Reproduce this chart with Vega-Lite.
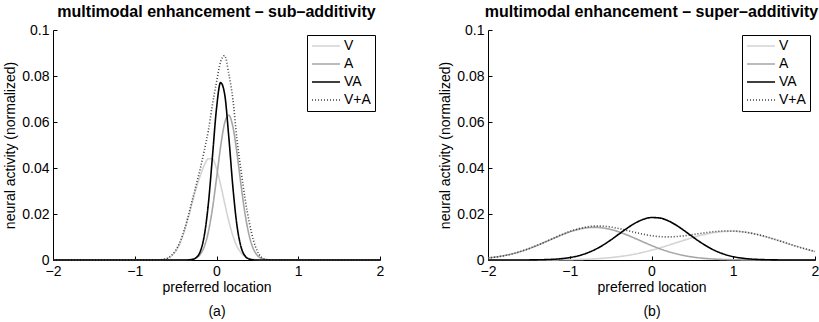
{
 "$schema": "https://vega.github.io/schema/vega-lite/v6.json",
 "padding": {"left": 3, "top": 4, "right": 3, "bottom": 2},
 "background": "white",
 "datasets": {
  "left": [
   {"x":-2,"y":0,"s":"V"},{"x":-1,"y":0,"s":"V"},{"x":-0.7,"y":0,"s":"V"},{"x":-0.65,"y":0.0002,"s":"V"},{"x":-0.6,"y":0.0007,"s":"V"},{"x":-0.55,"y":0.0018,"s":"V"},{"x":-0.5,"y":0.0038,"s":"V"},{"x":-0.45,"y":0.007,"s":"V"},{"x":-0.4,"y":0.0118,"s":"V"},{"x":-0.35,"y":0.0178,"s":"V"},{"x":-0.3,"y":0.0246,"s":"V"},{"x":-0.25,"y":0.031,"s":"V"},{"x":-0.2,"y":0.0365,"s":"V"},{"x":-0.15,"y":0.0412,"s":"V"},{"x":-0.1,"y":0.044,"s":"V"},{"x":-0.05,"y":0.044,"s":"V"},{"x":0,"y":0.0397,"s":"V"},{"x":0.05,"y":0.0328,"s":"V"},{"x":0.1,"y":0.0247,"s":"V"},{"x":0.15,"y":0.0169,"s":"V"},{"x":0.2,"y":0.0106,"s":"V"},{"x":0.25,"y":0.006,"s":"V"},{"x":0.3,"y":0.0032,"s":"V"},{"x":0.35,"y":0.0015,"s":"V"},{"x":0.4,"y":0.00065,"s":"V"},{"x":0.45,"y":0.00026,"s":"V"},{"x":0.5,"y":0.00009,"s":"V"},{"x":0.55,"y":0.00003,"s":"V"},{"x":0.6,"y":0,"s":"V"},{"x":0.7,"y":0,"s":"V"},{"x":1,"y":0,"s":"V"},{"x":2,"y":0,"s":"V"},
   {"x":-2,"y":0,"s":"A"},{"x":-1,"y":0,"s":"A"},{"x":-0.5,"y":0,"s":"A"},{"x":-0.4,"y":0.00002,"s":"A"},{"x":-0.35,"y":0.00008,"s":"A"},{"x":-0.3,"y":0.00028,"s":"A"},{"x":-0.25,"y":0.00087,"s":"A"},{"x":-0.2,"y":0.0024,"s":"A"},{"x":-0.15,"y":0.00579,"s":"A"},{"x":-0.1,"y":0.01214,"s":"A"},{"x":-0.05,"y":0.0222,"s":"A"},{"x":0,"y":0.03539,"s":"A"},{"x":0.05,"y":0.04918,"s":"A"},{"x":0.1,"y":0.0596,"s":"A"},{"x":0.15,"y":0.06296,"s":"A"},{"x":0.2,"y":0.05798,"s":"A"},{"x":0.25,"y":0.04656,"s":"A"},{"x":0.3,"y":0.03259,"s":"A"},{"x":0.35,"y":0.01989,"s":"A"},{"x":0.4,"y":0.01058,"s":"A"},{"x":0.45,"y":0.00491,"s":"A"},{"x":0.5,"y":0.00199,"s":"A"},{"x":0.55,"y":0.0007,"s":"A"},{"x":0.6,"y":0.00022,"s":"A"},{"x":0.65,"y":0.00006,"s":"A"},{"x":0.7,"y":0,"s":"A"},{"x":1,"y":0,"s":"A"},{"x":2,"y":0,"s":"A"},
   {"x":-2,"y":0,"s":"V+A"},{"x":-1,"y":0,"s":"V+A"},{"x":-0.7,"y":0,"s":"V+A"},{"x":-0.65,"y":0.0003,"s":"V+A"},{"x":-0.6,"y":0.0008,"s":"V+A"},{"x":-0.55,"y":0.002,"s":"V+A"},{"x":-0.5,"y":0.0042,"s":"V+A"},{"x":-0.45,"y":0.0075,"s":"V+A"},{"x":-0.4,"y":0.0125,"s":"V+A"},{"x":-0.35,"y":0.0185,"s":"V+A"},{"x":-0.3,"y":0.0255,"s":"V+A"},{"x":-0.25,"y":0.0325,"s":"V+A"},{"x":-0.2,"y":0.0395,"s":"V+A"},{"x":-0.15,"y":0.0475,"s":"V+A"},{"x":-0.1,"y":0.0562,"s":"V+A"},{"x":-0.05,"y":0.0675,"s":"V+A"},{"x":0,"y":0.0773,"s":"V+A"},{"x":0.05,"y":0.0862,"s":"V+A"},{"x":0.1,"y":0.0889,"s":"V+A"},{"x":0.15,"y":0.081,"s":"V+A"},{"x":0.2,"y":0.07,"s":"V+A"},{"x":0.25,"y":0.0525,"s":"V+A"},{"x":0.3,"y":0.039,"s":"V+A"},{"x":0.35,"y":0.0265,"s":"V+A"},{"x":0.4,"y":0.0165,"s":"V+A"},{"x":0.45,"y":0.0088,"s":"V+A"},{"x":0.5,"y":0.0038,"s":"V+A"},{"x":0.55,"y":0.0012,"s":"V+A"},{"x":0.6,"y":0.0003,"s":"V+A"},{"x":0.65,"y":0,"s":"V+A"},{"x":1,"y":0,"s":"V+A"},{"x":2,"y":0,"s":"V+A"},
   {"x":-2,"y":0,"s":"VA"},{"x":-1,"y":0,"s":"VA"},{"x":-0.4,"y":0,"s":"VA"},{"x":-0.35,"y":0.00003,"s":"VA"},{"x":-0.3,"y":0.00022,"s":"VA"},{"x":-0.25,"y":0.00099,"s":"VA"},{"x":-0.2,"y":0.00361,"s":"VA"},{"x":-0.15,"y":0.01049,"s":"VA"},{"x":-0.1,"y":0.02427,"s":"VA"},{"x":-0.05,"y":0.04477,"s":"VA"},{"x":0,"y":0.06582,"s":"VA"},{"x":0.05,"y":0.07715,"s":"VA"},{"x":0.1,"y":0.07207,"s":"VA"},{"x":0.15,"y":0.05368,"s":"VA"},{"x":0.2,"y":0.03186,"s":"VA"},{"x":0.25,"y":0.01508,"s":"VA"},{"x":0.3,"y":0.00569,"s":"VA"},{"x":0.35,"y":0.00171,"s":"VA"},{"x":0.4,"y":0.00041,"s":"VA"},{"x":0.45,"y":0.00008,"s":"VA"},{"x":0.5,"y":0,"s":"VA"},{"x":1,"y":0,"s":"VA"},{"x":2,"y":0,"s":"VA"}
  ],
  "right": [
   {"x":-2,"y":0,"s":"V"},{"x":-1.9,"y":0,"s":"V"},{"x":-1.8,"y":0,"s":"V"},{"x":-1.7,"y":0,"s":"V"},{"x":-1.6,"y":0.00001,"s":"V"},{"x":-1.5,"y":0.00001,"s":"V"},{"x":-1.4,"y":0.00002,"s":"V"},{"x":-1.3,"y":0.00003,"s":"V"},{"x":-1.2,"y":0.00006,"s":"V"},{"x":-1.1,"y":0.00009,"s":"V"},{"x":-1,"y":0.00015,"s":"V"},{"x":-0.9,"y":0.00023,"s":"V"},{"x":-0.8,"y":0.00034,"s":"V"},{"x":-0.7,"y":0.00051,"s":"V"},{"x":-0.6,"y":0.00074,"s":"V"},{"x":-0.5,"y":0.00105,"s":"V"},{"x":-0.4,"y":0.00145,"s":"V"},{"x":-0.3,"y":0.00196,"s":"V"},{"x":-0.2,"y":0.0026,"s":"V"},{"x":-0.1,"y":0.00336,"s":"V"},{"x":0,"y":0.00424,"s":"V"},{"x":0.1,"y":0.00524,"s":"V"},{"x":0.2,"y":0.00633,"s":"V"},{"x":0.3,"y":0.00747,"s":"V"},{"x":0.4,"y":0.00861,"s":"V"},{"x":0.5,"y":0.0097,"s":"V"},{"x":0.6,"y":0.01068,"s":"V"},{"x":0.7,"y":0.0115,"s":"V"},{"x":0.8,"y":0.01209,"s":"V"},{"x":0.9,"y":0.01243,"s":"V"},{"x":1,"y":0.01249,"s":"V"},{"x":1.1,"y":0.01226,"s":"V"},{"x":1.2,"y":0.01176,"s":"V"},{"x":1.3,"y":0.01103,"s":"V"},{"x":1.4,"y":0.01011,"s":"V"},{"x":1.5,"y":0.00905,"s":"V"},{"x":1.6,"y":0.00793,"s":"V"},{"x":1.7,"y":0.00678,"s":"V"},{"x":1.8,"y":0.00567,"s":"V"},{"x":1.9,"y":0.00463,"s":"V"},{"x":2,"y":0.0037,"s":"V"},
   {"x":-2,"y":0.00087,"s":"A"},{"x":-1.9,"y":0.00132,"s":"A"},{"x":-1.8,"y":0.00192,"s":"A"},{"x":-1.7,"y":0.00272,"s":"A"},{"x":-1.6,"y":0.00372,"s":"A"},{"x":-1.5,"y":0.00493,"s":"A"},{"x":-1.4,"y":0.00632,"s":"A"},{"x":-1.3,"y":0.00783,"s":"A"},{"x":-1.2,"y":0.00939,"s":"A"},{"x":-1.1,"y":0.0109,"s":"A"},{"x":-1,"y":0.01224,"s":"A"},{"x":-0.9,"y":0.01329,"s":"A"},{"x":-0.8,"y":0.01397,"s":"A"},{"x":-0.7,"y":0.0142,"s":"A"},{"x":-0.6,"y":0.01397,"s":"A"},{"x":-0.5,"y":0.01329,"s":"A"},{"x":-0.4,"y":0.01224,"s":"A"},{"x":-0.3,"y":0.0109,"s":"A"},{"x":-0.2,"y":0.00939,"s":"A"},{"x":-0.1,"y":0.00783,"s":"A"},{"x":0,"y":0.00632,"s":"A"},{"x":0.1,"y":0.00493,"s":"A"},{"x":0.2,"y":0.00372,"s":"A"},{"x":0.3,"y":0.00272,"s":"A"},{"x":0.4,"y":0.00192,"s":"A"},{"x":0.5,"y":0.00132,"s":"A"},{"x":0.6,"y":0.00087,"s":"A"},{"x":0.7,"y":0.00056,"s":"A"},{"x":0.8,"y":0.00035,"s":"A"},{"x":0.9,"y":0.00021,"s":"A"},{"x":1,"y":0.00012,"s":"A"},{"x":1.1,"y":0.00007,"s":"A"},{"x":1.2,"y":0.00004,"s":"A"},{"x":1.3,"y":0.00002,"s":"A"},{"x":1.4,"y":0.00001,"s":"A"},{"x":1.5,"y":0,"s":"A"},{"x":1.6,"y":0,"s":"A"},{"x":1.7,"y":0,"s":"A"},{"x":1.8,"y":0,"s":"A"},{"x":1.9,"y":0,"s":"A"},{"x":2,"y":0,"s":"A"},
   {"x":-2,"y":0.00087,"s":"V+A"},{"x":-1.9,"y":0.00132,"s":"V+A"},{"x":-1.8,"y":0.00192,"s":"V+A"},{"x":-1.7,"y":0.00272,"s":"V+A"},{"x":-1.6,"y":0.00373,"s":"V+A"},{"x":-1.5,"y":0.00494,"s":"V+A"},{"x":-1.4,"y":0.00634,"s":"V+A"},{"x":-1.3,"y":0.00787,"s":"V+A"},{"x":-1.2,"y":0.00945,"s":"V+A"},{"x":-1.1,"y":0.01099,"s":"V+A"},{"x":-1,"y":0.01239,"s":"V+A"},{"x":-0.9,"y":0.01352,"s":"V+A"},{"x":-0.8,"y":0.01431,"s":"V+A"},{"x":-0.7,"y":0.01471,"s":"V+A"},{"x":-0.6,"y":0.01471,"s":"V+A"},{"x":-0.5,"y":0.01434,"s":"V+A"},{"x":-0.4,"y":0.01369,"s":"V+A"},{"x":-0.3,"y":0.01286,"s":"V+A"},{"x":-0.2,"y":0.01199,"s":"V+A"},{"x":-0.1,"y":0.01119,"s":"V+A"},{"x":0,"y":0.01056,"s":"V+A"},{"x":0.1,"y":0.01017,"s":"V+A"},{"x":0.2,"y":0.01005,"s":"V+A"},{"x":0.3,"y":0.01019,"s":"V+A"},{"x":0.4,"y":0.01053,"s":"V+A"},{"x":0.5,"y":0.01102,"s":"V+A"},{"x":0.6,"y":0.01155,"s":"V+A"},{"x":0.7,"y":0.01206,"s":"V+A"},{"x":0.8,"y":0.01244,"s":"V+A"},{"x":0.9,"y":0.01264,"s":"V+A"},{"x":1,"y":0.01261,"s":"V+A"},{"x":1.1,"y":0.01233,"s":"V+A"},{"x":1.2,"y":0.0118,"s":"V+A"},{"x":1.3,"y":0.01105,"s":"V+A"},{"x":1.4,"y":0.01012,"s":"V+A"},{"x":1.5,"y":0.00905,"s":"V+A"},{"x":1.6,"y":0.00793,"s":"V+A"},{"x":1.7,"y":0.00678,"s":"V+A"},{"x":1.8,"y":0.00567,"s":"V+A"},{"x":1.9,"y":0.00463,"s":"V+A"},{"x":2,"y":0.0037,"s":"V+A"},
   {"x":-2,"y":0,"s":"VA"},{"x":-1.9,"y":0,"s":"VA"},{"x":-1.8,"y":0,"s":"VA"},{"x":-1.7,"y":0.00001,"s":"VA"},{"x":-1.6,"y":0.00001,"s":"VA"},{"x":-1.5,"y":0.00003,"s":"VA"},{"x":-1.4,"y":0.00007,"s":"VA"},{"x":-1.3,"y":0.00016,"s":"VA"},{"x":-1.2,"y":0.00031,"s":"VA"},{"x":-1.1,"y":0.00059,"s":"VA"},{"x":-1,"y":0.00105,"s":"VA"},{"x":-0.9,"y":0.00179,"s":"VA"},{"x":-0.8,"y":0.00288,"s":"VA"},{"x":-0.7,"y":0.00438,"s":"VA"},{"x":-0.6,"y":0.00633,"s":"VA"},{"x":-0.5,"y":0.00866,"s":"VA"},{"x":-0.4,"y":0.01122,"s":"VA"},{"x":-0.3,"y":0.01378,"s":"VA"},{"x":-0.2,"y":0.01604,"s":"VA"},{"x":-0.1,"y":0.01767,"s":"VA"},{"x":0,"y":0.01846,"s":"VA"},{"x":0.1,"y":0.01826,"s":"VA"},{"x":0.2,"y":0.01711,"s":"VA"},{"x":0.3,"y":0.01519,"s":"VA"},{"x":0.4,"y":0.01278,"s":"VA"},{"x":0.5,"y":0.01018,"s":"VA"},{"x":0.6,"y":0.00769,"s":"VA"},{"x":0.7,"y":0.0055,"s":"VA"},{"x":0.8,"y":0.00373,"s":"VA"},{"x":0.9,"y":0.00239,"s":"VA"},{"x":1,"y":0.00145,"s":"VA"},{"x":1.1,"y":0.00084,"s":"VA"},{"x":1.2,"y":0.00046,"s":"VA"},{"x":1.3,"y":0.00024,"s":"VA"},{"x":1.4,"y":0.00012,"s":"VA"},{"x":1.5,"y":0.00005,"s":"VA"},{"x":1.6,"y":0.00002,"s":"VA"},{"x":1.7,"y":0.00001,"s":"VA"},{"x":1.8,"y":0,"s":"VA"},{"x":1.9,"y":0,"s":"VA"},{"x":2,"y":0,"s":"VA"}
  ]
 },
 "spacing": 54,
 "hconcat": [
  {
   "width": 327, "height": 230,
   "title": "multimodal enhancement – sub–additivity",
   "data": {"name": "left"},
   "mark": {"type": "line", "interpolate": "monotone", "strokeCap": "butt"},
   "encoding": {
    "x": {"field": "x", "type": "quantitative", "scale": {"domain": [-2, 2], "nice": false}, "axis": {"values": [-2, -1, 0, 1, 2], "format": "d", "title": ["preferred location", "(a)"]}},
    "y": {"field": "y", "type": "quantitative", "scale": {"domain": [0, 0.1], "nice": false}, "axis": {"values": [0, 0.02, 0.04, 0.06, 0.08, 0.1], "format": "~g", "title": "neural activity (normalized)"}},
    "color": {"field": "s", "type": "nominal", "scale": {"domain": ["V", "A", "VA", "V+A"], "range": ["#d4d4d4", "#a6a6a6", "#000000", "#404040"]}, "legend": {"title": null}},
    "strokeDash": {"field": "s", "type": "nominal", "scale": {"domain": ["V", "A", "VA", "V+A"], "range": [[1, 0], [1, 0], [1, 0], [1, 2]]}, "legend": {"title": null}},
    "strokeWidth": {"field": "s", "type": "nominal", "scale": {"domain": ["V", "A", "VA", "V+A"], "range": [1.6, 1.6, 2.2, 2]}, "legend": {"title": null}}
   }
  },
  {
   "width": 327, "height": 230,
   "title": "multimodal enhancement – super–additivity",
   "data": {"name": "right"},
   "mark": {"type": "line", "interpolate": "monotone", "strokeCap": "butt"},
   "encoding": {
    "x": {"field": "x", "type": "quantitative", "scale": {"domain": [-2, 2], "nice": false}, "axis": {"values": [-2, -1, 0, 1, 2], "format": "d", "title": ["preferred location", "(b)"]}},
    "y": {"field": "y", "type": "quantitative", "scale": {"domain": [0, 0.1], "nice": false}, "axis": {"values": [0, 0.02, 0.04, 0.06, 0.08, 0.1], "format": "~g", "title": "neural activity (normalized)"}},
    "color": {"field": "s", "type": "nominal", "scale": {"domain": ["V", "A", "VA", "V+A"], "range": ["#d4d4d4", "#a6a6a6", "#000000", "#404040"]}, "legend": {"title": null}},
    "strokeDash": {"field": "s", "type": "nominal", "scale": {"domain": ["V", "A", "VA", "V+A"], "range": [[1, 0], [1, 0], [1, 0], [1, 2]]}, "legend": {"title": null}},
    "strokeWidth": {"field": "s", "type": "nominal", "scale": {"domain": ["V", "A", "VA", "V+A"], "range": [1.6, 1.6, 2.2, 2]}, "legend": {"title": null}}
   }
  }
 ],
 "resolve": {
  "scale": {"color": "independent", "strokeDash": "independent", "strokeWidth": "independent", "x": "independent", "y": "independent"},
  "legend": {"color": "independent", "strokeDash": "independent", "strokeWidth": "independent"}
 },
 "config": {
  "font": "Liberation Sans",
  "view": {"stroke": null},
  "axis": {"grid": false, "domainColor": "black", "domainWidth": 1, "tickColor": "black", "tickSize": -4, "tickWidth": 1, "labelFontSize": 14, "labelColor": "black", "labelFont": "Liberation Sans", "titleFont": "Liberation Sans", "titleFontSize": 14, "titleFontWeight": "normal", "titleColor": "black", "labelPadding": 8, "labelFlush": false, "labelOverlap": false},
  "axisX": {"titleLineHeight": 24, "titlePadding": 2},
  "axisY": {"titlePadding": 4},
  "title": {"fontSize": 16, "fontWeight": "bold", "font": "Liberation Sans", "color": "black", "offset": 3, "anchor": "middle"},
  "legend": {"orient": "top-right", "offset": 5, "strokeColor": "black", "strokeWidth": 1, "fillColor": "white", "padding": 4, "symbolType": "stroke", "symbolSize": 784, "clipHeight": 14, "rowPadding": 4, "labelFontSize": 14, "labelFont": "Liberation Sans", "labelColor": "black", "labelOffset": 3}
 }
}
